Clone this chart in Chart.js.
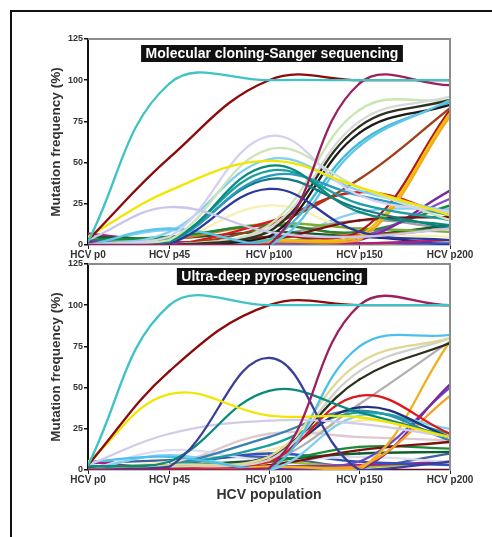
<!DOCTYPE html>
<html><head><meta charset="utf-8">
<script src="https://cdn.jsdelivr.net/npm/chart.js@4.4.0/dist/chart.umd.min.js"></script>
<style>
html,body{margin:0;padding:0;background:#fff;}
#wrap{position:relative;width:492px;height:537px;overflow:hidden;background:#fff;}
#frame{position:absolute;left:10px;top:10px;width:500px;height:540px;border-top:2px solid #111;border-left:2px solid #111;}
canvas{position:absolute;left:0;}
#c1{top:25px;} #c2{top:250px;}
</style></head><body>
<div id="wrap"><div id="frame"></div>
<canvas id="c1" width="492" height="245"></canvas>
<canvas id="c2" width="492" height="270"></canvas>
</div>
<script>
// ---- data ----
const passages = [0, 45, 100, 150, 200];
const passageLabels = ['HCV p0', 'HCV p45', 'HCV p100', 'HCV p150', 'HCV p200'];
const yTickValues = [0, 25, 50, 75, 100, 125];
const yAxisTitle = 'Mutation frequency (%)';
const xAxisTitle = 'HCV population';
const sangerTitle = 'Molecular cloning-Sanger sequencing';
const pyroTitle = 'Ultra-deep pyrosequencing';

// Molecular cloning-Sanger sequencing: frequency (%) at p0, p45, p100, p150, p200
const sangerValues = [
  [2, 98, 100, 100, 100],
  [3, 53, 100, 100, 100],
  [0, 0, 0, 98, 97],
  [5, 33, 51, 35, 18],
  [3, 23, 8, 5, 10],
  [0, 5, 66, 30, 20],
  [0, 3, 58, 35, 15],
  [0, 2, 48, 20, 12],
  [0, 3, 45, 25, 15],
  [0, 2, 42, 30, 18],
  [0, 3, 40, 22, 10],
  [0, 1, 34, 8, 3],
  [0, 10, 0, 60, 88],
  [0, 8, 52, 33, 20],
  [0, 0, 8, 72, 88],
  [0, 0, 5, 68, 85],
  [0, 0, 10, 75, 90],
  [0, 0, 12, 82, 88],
  [0, 0, 3, 62, 87],
  [0, 0, 12, 40, 83],
  [0, 0, 3, 5, 80],
  [0, 0, 2, 3, 78],
  [0, 0, 5, 8, 82],
  [0, 0, 14, 32, 18],
  [0, 0, 3, 15, 17],
  [2, 1, 2, 3, 33],
  [2, 1, 1, 5, 28],
  [3, 5, 12, 8, 24],
  [2, 4, 13, 10, 8],
  [1, 3, 12, 6, 10],
  [5, 4, 8, 6, 12],
  [7, 2, 2, 1, 3],
  [5, 2, 1, 1, 1],
  [0, 0, 5, 15, 10],
  [0, 2, 24, 8, 5],
  [0, 9, 2, 20, 22],
  [1, 0, 2, 5, 0],
  [0, 0, 1, 0, 3]
];
const sangerColors = [
  '#3ec3c6', '#8b0a0a', '#9c1f5e', '#f2e600', '#c9c6ea', '#d4d0f0', '#cfe3b8', '#0a8a7a',
  '#1aa0a0', '#2a9ac0', '#127a80', '#2b3a9a', '#5ec6ea', '#7fd0f0', '#2e3320', '#1a1a1a',
  '#d8d8d8', '#c8e6b0', '#40b8d8', '#a0401a', '#f0c000', '#f5a623', '#b01818', '#e0161b',
  '#7a1010', '#7a2a9a', '#8a4ac0', '#1a8a3a', '#7ab030', '#f06020', '#0e5e2e', '#b0207a',
  '#3050c0', '#a0a0a0', '#f8f0b0', '#8ad0f0', '#1a2a80', '#e8e040'
];

// Ultra-deep pyrosequencing: frequency (%) at p0, p45, p100, p150, p200
const pyroValues = [
  [3, 100, 100, 100, 100],
  [3, 60, 100, 100, 100],
  [0, 0, 1, 100, 100],
  [5, 46, 33, 32, 20],
  [0, 2, 68, 0, 5],
  [2, 5, 48, 35, 20],
  [3, 22, 30, 28, 20],
  [5, 8, 0, 75, 82],
  [0, 3, 8, 65, 80],
  [0, 2, 6, 60, 80],
  [0, 2, 8, 55, 77],
  [0, 1, 5, 45, 22],
  [0, 2, 8, 38, 20],
  [0, 3, 15, 35, 22],
  [0, 3, 20, 36, 18],
  [0, 9, 0, 33, 25],
  [0, 0, 2, 0, 78],
  [0, 0, 2, 2, 45],
  [0, 0, 1, 0, 52],
  [0, 0, 2, 5, 50],
  [1, 0, 3, 12, 17],
  [2, 3, 5, 14, 13],
  [2, 3, 6, 10, 11],
  [0, 0, 5, 40, 78],
  [0, 12, 6, 8, 5],
  [0, 3, 22, 20, 18],
  [0, 3, 10, 5, 3],
  [5, 1, 2, 3, 5],
  [0, 5, 12, 30, 20],
  [1, 2, 5, 2, 5],
  [4, 6, 8, 2, 10],
  [1, 0, 0, 0, 0]
];
const pyroColors = [
  '#3ec3c6', '#8b0a0a', '#9c1f5e', '#f2e600', '#3a3f9a', '#0a8a7a', '#d0cce8', '#4cc0ec',
  '#e0d890', '#cfcfcf', '#2a2e1a', '#e0161b', '#22307a', '#1aa0a0', '#3a80b0', '#7fd0f0',
  '#f0b020', '#f5a020', '#7a2a9a', '#6a4ac0', '#7a1010', '#1a8a3a', '#0e5e2e', '#b0b0b0',
  '#dcdcf0', '#e0c8d0', '#3050c0', '#b0207a', '#f0e8b0', '#9ac030', '#4060a0', '#6a0a2a'
];

// ---- drawing ----
function buildDatasets(values, colors) {
  return values.map((vals, i) => ({
    data: vals.map((v, j) => ({ x: passages[j], y: v })),
    borderColor: colors[i],
    backgroundColor: colors[i],
    borderWidth: 2.3,
    pointRadius: 0.9,
    pointBorderWidth: 0.5,
    pointHoverRadius: 0,
    tension: 0.4,
    fill: false
  }));
}

const panelDecor = {
  id: 'panelDecor',
  afterDatasetsDraw(chart, args, opts) {
    const { ctx, chartArea: a } = chart;
    ctx.save();
    ctx.strokeStyle = '#8c8c8c';
    ctx.lineWidth = 2;
    ctx.beginPath();
    ctx.moveTo(a.left, a.top);
    ctx.lineTo(a.right, a.top);
    ctx.lineTo(a.right, a.bottom);
    ctx.stroke();
    // title box
    ctx.font = 'bold 14px "Liberation Sans", Arial, sans-serif';
    const w = ctx.measureText(opts.text).width + 9;
    const cx = (a.left + a.right) / 2 + 3;
    const top = a.top + opts.dy;
    ctx.fillStyle = '#111';
    ctx.fillRect(cx - w / 2, top, w, 17);
    ctx.fillStyle = '#fff';
    ctx.textAlign = 'center';
    ctx.textBaseline = 'middle';
    ctx.fillText(opts.text, cx, top + 9);
    ctx.restore();
  }
};

function makeChart(id, values, colors, title, dy, showXTitle, padBottom, xHeight) {
  return new Chart(document.getElementById(id), {
    type: 'line',
    data: { datasets: buildDatasets(values, colors) },
    plugins: [panelDecor],
    options: {
      responsive: false,
      animation: false,
      events: [],
      layout: { padding: { left: 48, right: 42, top: 14, bottom: padBottom } },
      plugins: {
        legend: { display: false },
        tooltip: { enabled: false },
        panelDecor: { text: title, dy: dy }
      },
      scales: {
        x: {
          type: 'linear',
          min: passages[0],
          max: passages[passages.length - 1],
          afterBuildTicks: s => { s.ticks = passages.map(v => ({ value: v })); },
          afterFit: s => { s.height = xHeight; },
          ticks: {
            autoSkip: false, maxRotation: 0, padding: 0,
            color: '#333',
            font: { family: '"Liberation Sans", Arial, sans-serif', size: 10, weight: 'bold' },
            callback: v => passageLabels[passages.indexOf(v)]
          },
          grid: { drawOnChartArea: false, drawTicks: true, tickLength: 4, color: '#222', lineWidth: 1 },
          border: { display: true, color: '#8c8c8c', width: 1.5 },
          title: {
            display: showXTitle, text: xAxisTitle, color: '#333',
            font: { family: '"Liberation Sans", Arial, sans-serif', size: 14, weight: 'bold' },
            padding: { top: 0, bottom: 6 }
          }
        },
        y: {
          min: 0, max: 125,
          afterBuildTicks: s => { s.ticks = yTickValues.map(v => ({ value: v })); },
          afterFit: s => { s.width = 40; },
          ticks: {
            padding: 1, color: '#333',
            font: { family: '"Liberation Sans", Arial, sans-serif', size: 9, weight: 'bold' }
          },
          grid: { drawOnChartArea: false, drawTicks: true, tickLength: 4, color: '#111', lineWidth: 1.5 },
          border: { display: true, color: '#111', width: 2 },
          title: {
            display: true, text: yAxisTitle, color: '#333',
            font: { family: '"Liberation Sans", Arial, sans-serif', size: 13.5, weight: 'bold' },
            padding: { top: 0, bottom: 0 }
          }
        }
      }
    }
  });
}

makeChart('c1', sangerValues, sangerColors, sangerTitle, 6, false, 5, 20);
makeChart('c2', pyroValues, pyroColors, pyroTitle, 4, true, 10, 40);
</script>
</body></html>
